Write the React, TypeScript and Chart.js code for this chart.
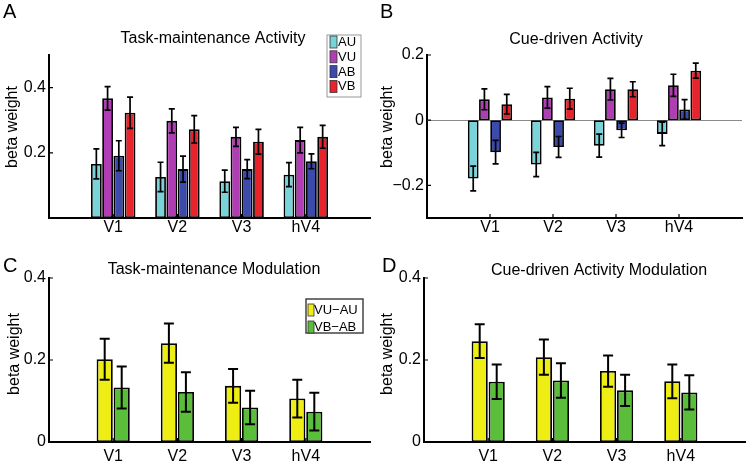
import React, { useEffect, useRef } from "react";
import { Chart, registerables } from "chart.js";
Chart.register(...registerables);

const categories = ["V1", "V2", "V3", "hV4"];

// Panel A: Task-maintenance Activity
const maintAU = [0.166, 0.126, 0.113, 0.133];
const maintAUErr = [0.046, 0.045, 0.034, 0.037];
const maintVU = [0.367, 0.298, 0.249, 0.239];
const maintVUErr = [0.036, 0.037, 0.029, 0.039];
const maintAB = [0.191, 0.15, 0.15, 0.174];
const maintABErr = [0.046, 0.04, 0.029, 0.023];
const maintVB = [0.323, 0.272, 0.234, 0.249];
const maintVBErr = [0.048, 0.042, 0.038, 0.035];

// Panel B: Cue-driven Activity
const cueAU = [-0.179, -0.136, -0.078, -0.042];
const cueAUErr = [0.038, 0.037, 0.035, 0.036];
const cueVU = [0.064, 0.07, 0.095, 0.107];
const cueVUErr = [0.032, 0.033, 0.033, 0.034];
const cueAB = [-0.098, -0.082, -0.031, 0.033];
const cueABErr = [0.036, 0.032, 0.022, 0.03];
const cueVB = [0.049, 0.066, 0.095, 0.152];
const cueVBErr = [0.03, 0.032, 0.023, 0.023];

// Panel C: Task-maintenance Modulation
const maintModVUAU = [0.202, 0.241, 0.137, 0.106];
const maintModVUAUErr = [0.05, 0.048, 0.041, 0.046];
const maintModVBAB = [0.133, 0.122, 0.084, 0.074];
const maintModVBABErr = [0.051, 0.048, 0.041, 0.046];

// Panel D: Cue-driven Activity Modulation
const cueModVUAU = [0.246, 0.207, 0.173, 0.148];
const cueModVUAUErr = [0.041, 0.043, 0.038, 0.041];
const cueModVBAB = [0.147, 0.15, 0.126, 0.121];
const cueModVBABErr = [0.042, 0.042, 0.038, 0.042];

// Y tick values and labels
const ticksA = [0.2, 0.4];
const tickLabelsA = ["0.2", "0.4"];
const ticksB = [-0.2, 0, 0.2];
const tickLabelsB = ["\u22120.2", "0", "0.2"];
const ticksCD = [0, 0.2, 0.4];
const tickLabelsCD = ["0", "0.2", "0.4"];

const FONT = '"Liberation Sans", Arial, Helvetica, sans-serif';
const C_AU = "#78d4d8";
const C_VU = "#b03db3";
const C_AB = "#3b4aab";
const C_VB = "#e8232b";
const C_Y = "#eeee14";
const C_G = "#5abe3a";

type Series = { label: string; values: number[]; errors: number[]; color: string };
type Legend = {
  x: number; y: number; w: number; h: number;
  row0: number; step: number; swX: number; swW: number; swH: number; textX: number;
  border: string; bw: number;
};
type Spec = {
  id: string;
  letter: string; letterX: number; letterY: number;
  title: string; titleX: number; titleY: number;
  ylabelX: number; ylabelY: number;
  series: Series[];
  yMin: number; yMax: number; yTicks: number[]; yTickLabels: string[];
  canvas: { left: number; top: number; w: number; h: number };
  area: { left: number; right: number; top: number; bottom: number };
  catPct: number; barPct: number; cap: number; errW: number; xPad: number;
  legend?: Legend;
  zeroLine?: boolean;
};

const fourSeries = (au: number[], aue: number[], vu: number[], vue: number[], ab: number[], abe: number[], vb: number[], vbe: number[]): Series[] => [
  { label: "AU", values: au, errors: aue, color: C_AU },
  { label: "VU", values: vu, errors: vue, color: C_VU },
  { label: "AB", values: ab, errors: abe, color: C_AB },
  { label: "VB", values: vb, errors: vbe, color: C_VB },
];

const specs: Spec[] = [
  {
    id: "A", letter: "A", letterX: 3, letterY: 18,
    title: "Task-maintenance Activity", titleX: 213, titleY: 43,
    ylabelX: 13, ylabelY: 127,
    series: fourSeries(maintAU, maintAUErr, maintVU, maintVUErr, maintAB, maintABErr, maintVB, maintVBErr),
    yMin: 0, yMax: 0.5, yTicks: ticksA, yTickLabels: tickLabelsA,
    canvas: { left: 0, top: 0, w: 375, h: 240 },
    area: { left: 49, right: 370, top: 55, bottom: 218 },
    catPct: 0.7, barPct: 0.96, cap: 3, errW: 1.7, xPad: 0,
    legend: { x: 327, y: 35, w: 34, h: 62, row0: 42, step: 14.8, swX: 330, swW: 7, swH: 12, textX: 338, border: "#999", bw: 1 },
  },
  {
    id: "B", letter: "B", letterX: 5, letterY: 18,
    title: "Cue-driven Activity", titleX: 201, titleY: 44,
    ylabelX: 13, ylabelY: 127,
    series: fourSeries(cueAU, cueAUErr, cueVU, cueVUErr, cueAB, cueABErr, cueVB, cueVBErr),
    yMin: -0.3, yMax: 0.2, yTicks: ticksB, yTickLabels: tickLabelsB,
    canvas: { left: 375, top: 0, w: 375, h: 240 },
    area: { left: 52, right: 367, top: 55, bottom: 218 },
    catPct: 0.71, barPct: 0.96, cap: 3, errW: 1.7, xPad: 0,
    zeroLine: true,
  },
  {
    id: "C", letter: "C", letterX: 3, letterY: 32,
    title: "Task-maintenance Modulation", titleX: 214, titleY: 34,
    ylabelX: 15, ylabelY: 114,
    series: [
      { label: "VU\u2212AU", values: maintModVUAU, errors: maintModVUAUErr, color: C_Y },
      { label: "VB\u2212AB", values: maintModVBAB, errors: maintModVBABErr, color: C_G },
    ],
    yMin: 0, yMax: 0.4, yTicks: ticksCD, yTickLabels: tickLabelsCD,
    canvas: { left: 0, top: 240, w: 375, h: 227 },
    area: { left: 49, right: 370, top: 38, bottom: 202 },
    catPct: 0.53, barPct: 0.95, cap: 5, errW: 2, xPad: 5,
    legend: { x: 306, y: 59, w: 57, h: 34, row0: 70, step: 17, swX: 308, swW: 6, swH: 12, textX: 314, border: "#444", bw: 1.5 },
  },
  {
    id: "D", letter: "D", letterX: 7, letterY: 32,
    title: "Cue-driven Activity Modulation", titleX: 224, titleY: 35,
    ylabelX: 13, ylabelY: 114,
    series: [
      { label: "VU\u2212AU", values: cueModVUAU, errors: cueModVUAUErr, color: C_Y },
      { label: "VB\u2212AB", values: cueModVBAB, errors: cueModVBABErr, color: C_G },
    ],
    yMin: 0, yMax: 0.4, yTicks: ticksCD, yTickLabels: tickLabelsCD,
    canvas: { left: 375, top: 240, w: 375, h: 227 },
    area: { left: 49, right: 370, top: 38, bottom: 202 },
    catPct: 0.53, barPct: 0.95, cap: 5, errW: 2, xPad: 5,
  },
];

function decoPlugin(spec: Spec) {
  return {
    id: "deco" + spec.id,
    beforeDatasetsDraw(chart: any) {
      if (!spec.zeroLine) return;
      const ctx = chart.ctx;
      const a = chart.chartArea;
      const y = Math.round(chart.scales.y.getPixelForValue(0)) + 0.5;
      ctx.save();
      ctx.strokeStyle = "#8a8a8a";
      ctx.lineWidth = 1;
      ctx.beginPath();
      ctx.moveTo(a.left, y);
      ctx.lineTo(a.right, y);
      ctx.stroke();
      ctx.restore();
    },
    afterDatasetsDraw(chart: any) {
      const ctx = chart.ctx;
      const ys = chart.scales.y;
      ctx.save();
      ctx.strokeStyle = "#000";
      ctx.lineWidth = spec.errW;
      spec.series.forEach((s, di) => {
        const meta = chart.getDatasetMeta(di);
        s.values.forEach((v, i) => {
          const el = meta.data[i + 1];
          if (!el) return;
          const x = el.x;
          const y1 = ys.getPixelForValue(v - s.errors[i]);
          const y2 = ys.getPixelForValue(v + s.errors[i]);
          ctx.beginPath();
          ctx.moveTo(x, y1);
          ctx.lineTo(x, y2);
          ctx.moveTo(x - spec.cap, y1);
          ctx.lineTo(x + spec.cap, y1);
          ctx.moveTo(x - spec.cap, y2);
          ctx.lineTo(x + spec.cap, y2);
          ctx.stroke();
        });
      });
      ctx.restore();
    },
    afterDraw(chart: any) {
      const ctx = chart.ctx;
      const a = chart.chartArea;
      const ys = chart.scales.y;
      const xs = chart.scales.x;
      ctx.save();
      // inward tick marks
      ctx.strokeStyle = "#000";
      ctx.lineWidth = 1.2;
      ctx.beginPath();
      spec.yTicks.forEach((t) => {
        const y = ys.getPixelForValue(t);
        ctx.moveTo(a.left, y);
        ctx.lineTo(a.left + 4, y);
      });
      categories.forEach((_, i) => {
        const x = xs.getPixelForValue(i + 1);
        ctx.moveTo(x, a.bottom);
        ctx.lineTo(x, a.bottom - 4);
      });
      ctx.stroke();

      ctx.fillStyle = "#000";
      // panel letter
      ctx.font = `20px ${FONT}`;
      ctx.textAlign = "left";
      ctx.textBaseline = "alphabetic";
      ctx.fillText(spec.letter, spec.letterX, spec.letterY);
      // title
      ctx.font = `16px ${FONT}`;
      ctx.textAlign = "center";
      ctx.fillText(spec.title, spec.titleX, spec.titleY);
      // y label
      ctx.save();
      ctx.translate(spec.ylabelX, spec.ylabelY);
      ctx.rotate(-Math.PI / 2);
      ctx.textAlign = "center";
      ctx.textBaseline = "middle";
      ctx.font = `16px ${FONT}`;
      ctx.fillText("beta weight", 0, 0);
      ctx.restore();

      // legend
      const L = spec.legend;
      if (L) {
        ctx.fillStyle = "#fff";
        ctx.fillRect(L.x, L.y, L.w, L.h);
        ctx.strokeStyle = L.border;
        ctx.lineWidth = L.bw;
        ctx.strokeRect(L.x, L.y, L.w, L.h);
        ctx.font = `13px ${FONT}`;
        ctx.textAlign = "left";
        ctx.textBaseline = "middle";
        spec.series.forEach((s, i) => {
          const cy = L.row0 + i * L.step;
          ctx.fillStyle = s.color;
          ctx.fillRect(L.swX, cy - L.swH / 2, L.swW, L.swH);
          ctx.strokeStyle = "#333";
          ctx.lineWidth = 0.8;
          ctx.strokeRect(L.swX, cy - L.swH / 2, L.swW, L.swH);
          ctx.fillStyle = "#000";
          ctx.fillText(s.label, L.textX, cy + 0.5);
        });
      }
      ctx.restore();
    },
  };
}

function buildConfig(spec: Spec): any {
  const labels = ["", ...categories, ""];
  return {
    type: "bar",
    data: {
      labels,
      datasets: spec.series.map((s) => ({
        label: s.label,
        data: [null, ...s.values, null],
        backgroundColor: s.color,
        borderColor: "#000",
        borderWidth: 1.8,
        borderSkipped: false,
        inflateAmount: 0,
        barPercentage: spec.barPct,
        categoryPercentage: spec.catPct,
      })),
    },
    options: {
      responsive: false,
      animation: false,
      devicePixelRatio: 1,
      layout: {
        padding: { left: 0, top: spec.area.top, right: spec.canvas.w - spec.area.right, bottom: 0 },
      },
      plugins: {
        legend: { display: false },
        title: { display: false },
        tooltip: { enabled: false },
      },
      scales: {
        x: {
          type: "category",
          offset: false,
          grid: { display: false, drawTicks: false },
          border: { display: true, color: "#000", width: 2 },
          ticks: {
            color: "#000",
            font: { family: FONT, size: 16 },
            padding: spec.xPad,
            autoSkip: false,
            maxRotation: 0,
          },
          afterFit: (s: any) => {
            s.height = spec.canvas.h - spec.area.bottom;
          },
        },
        y: {
          type: "linear",
          min: spec.yMin,
          max: spec.yMax,
          grid: { display: false, drawTicks: false },
          border: { display: true, color: "#000", width: 2 },
          afterBuildTicks: (s: any) => {
            s.ticks = spec.yTicks.map((v) => ({ value: v }));
          },
          ticks: {
            color: "#000",
            font: { family: FONT, size: 16 },
            padding: 3,
            callback: (v: number) => {
              const idx = spec.yTicks.findIndex((t) => Math.abs(t - v) < 1e-9);
              return idx >= 0 ? spec.yTickLabels[idx] : "";
            },
          },
          afterFit: (s: any) => {
            s.width = spec.area.left;
          },
        },
      },
    },
    plugins: [decoPlugin(spec)],
  };
}

function Panel({ spec }: { spec: Spec }) {
  const ref = useRef<HTMLCanvasElement>(null);
  useEffect(() => {
    if (!ref.current) return;
    const chart = new Chart(ref.current, buildConfig(spec));
    return () => chart.destroy();
  }, [spec]);
  return (
    <canvas
      ref={ref}
      width={spec.canvas.w}
      height={spec.canvas.h}
      style={{
        position: "absolute",
        left: spec.canvas.left,
        top: spec.canvas.top,
        width: spec.canvas.w,
        height: spec.canvas.h,
      }}
    />
  );
}

export default function App() {
  return (
    <div
      style={{
        position: "fixed",
        left: 0,
        top: 0,
        width: 750,
        height: 467,
        background: "#fff",
        overflow: "hidden",
      }}
    >
      {specs.map((s) => (
        <Panel key={s.id} spec={s} />
      ))}
    </div>
  );
}
